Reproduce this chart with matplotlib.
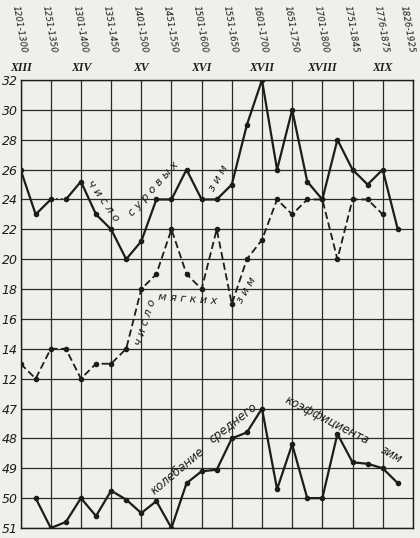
import matplotlib.pyplot as plt

# half-period positions along the x axis (grid lines at even positions)
periods = ["1201-1300", "1251-1350", "1301-1400", "1351-1450", "1401-1500",
           "1451-1550", "1501-1600", "1551-1650", "1601-1700", "1651-1750",
           "1701-1800", "1751-1845", "1776-1875", "1826-1925"]
centuries = ["XIII", "XIV", "XV", "XVI", "XVII", "XVIII", "XIX"]

# число суровых зим (positions 0..25)
severe_x = list(range(26))
severe = [26, 23, 24, 24, 25.2, 23, 22, 20, 21.2, 24, 24, 26, 24,
          24, 25, 29, 32, 26, 30, 25.2, 24, 28, 26, 25, 26, 22]

# число мягких зим (positions 0..24)
mild_x = list(range(25))
mild = [13, 12, 14, 14, 12, 13, 13, 14, 18, 19, 22, 19, 18,
        22, 17, 20, 21.3, 24, 23, 24, 24, 20, 24, 24, 23]

# колебание среднего коэффициента зим (positions 1..25)
coef_x = list(range(1, 26))
coef = [50.0, 51.0, 50.8, 50.0, 50.6, 49.75, 50.05, 50.5, 50.1, 51.0, 49.5, 49.1,
        49.05, 48.0, 47.8, 47.0, 49.7, 48.2, 50.0, 50.0, 47.85, 48.8, 48.85, 49.0, 49.5]

count_ticks = [12, 14, 16, 18, 20, 22, 24, 26, 28, 30, 32]
coef_ticks = [47, 48, 49, 50, 51]

ink = "#1c1c1c"
paper = "#efefed"
hand = dict(family="DejaVu Sans", style="italic", color=ink)

fig = plt.figure(figsize=(4.2, 5.38), dpi=100, facecolor=paper)
ax = fig.add_axes([0.049, 0.0186, 0.934, 0.8327])
ax.set_facecolor(paper)
ax.set_xlim(0, 26)
ax.set_ylim(2, 32)

# grid
for x in range(0, 27, 2):
    ax.axvline(x, color="#2a2a2a", lw=0.9, zorder=1)
for y in range(2, 33, 2):
    ax.axhline(y, color="#2a2a2a", lw=0.9, zorder=1)
for s in ax.spines.values():
    s.set_color(ink)
    s.set_linewidth(1.0)

ax.set_xticks([])
ax.set_yticks(count_ticks)
ax.set_yticklabels([str(t) for t in count_ticks], **hand, fontsize=9)
ax.tick_params(axis="y", length=0, pad=2)

# coefficient scale (inverted) sharing the left side
ax2 = ax.twinx()
ax2.set_ylim(51, 36)
ax2.set_yticks(coef_ticks)
ax2.set_yticklabels([str(t) for t in coef_ticks], **hand, fontsize=9)
ax2.yaxis.tick_left()
ax2.tick_params(axis="y", length=0, pad=2)
for s in ax2.spines.values():
    s.set_visible(False)

# severe winters: solid, with a dotted gap between positions 2 and 3
ax.plot(severe_x[:3], severe[:3], color=ink, lw=1.6, marker="o", ms=3, zorder=3)
ax.plot(severe_x[2:4], severe[2:4], color=ink, lw=1.2, ls=(0, (1, 2)), zorder=3)
ax.plot(severe_x[3:], severe[3:], color=ink, lw=1.6, marker="o", ms=3, zorder=3)

# mild winters: dashed
ax.plot(mild_x, mild, color=ink, lw=1.3, ls=(0, (4, 2)), marker="o", ms=3, zorder=3)

# coefficient
ax2.plot(coef_x, coef, color=ink, lw=1.6, marker="o", ms=3, zorder=3)

# top labels
for i, p in enumerate(periods):
    px = 19.5 + 30.15 * i
    if i == len(periods) - 1:
        px -= 4
    fig.text(px / 420, 1 - 5 / 538, p, rotation=-80,
             ha="center", va="top", fontsize=6.3, **hand)
for i, c in enumerate(centuries):
    fig.text((20.7 + 60.3 * i) / 420, 1 - 68 / 538, c, ha="center", va="center",
             fontsize=8.5, fontweight="bold", family="Liberation Serif",
             style="italic", color=ink)

# curve annotations
ax.text(5.5, 23.9, "ч и с л о", rotation=-55, ha="center", va="center", fontsize=8, **hand)
ax.text(8.8, 24.7, "с у р о в ы х", rotation=48, ha="center", va="center", fontsize=8, **hand)
ax.text(13.1, 25.4, "з и м", rotation=60, ha="center", va="center", fontsize=8, **hand)

ax.text(8.3, 15.8, "ч и с л о", rotation=72, ha="center", va="center", fontsize=8, **hand)
ax.text(11.1, 17.3, "м я г к и х", rotation=-4, ha="center", va="center", fontsize=8, **hand)
ax.text(15.0, 17.9, "з и м", rotation=60, ha="center", va="center", fontsize=8, **hand)

ax2.text(10.4, 49.1, "колебание", rotation=40, ha="center", va="center", fontsize=8.5, **hand)
ax2.text(14.1, 47.5, "среднего", rotation=38, ha="center", va="center", fontsize=8.5, **hand)
ax2.text(20.3, 47.4, "коэффициента", rotation=-27, ha="center", va="center", fontsize=8.5, **hand)
ax2.text(24.6, 48.55, "зим", rotation=-30, ha="center", va="center", fontsize=8.5, **hand)

fig.savefig("out.png", dpi=100, facecolor=paper)
